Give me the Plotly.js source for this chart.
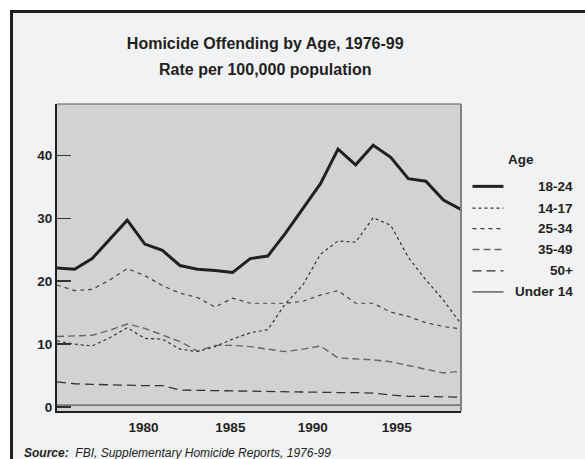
<!DOCTYPE html>
<html>
<head>
<meta charset="utf-8">
<script src="https://cdn.plot.ly/plotly-3.0.1.min.js"></script>
<style>
  html, body { margin: 0; padding: 0; background: #ffffff; }
  #frame { position: absolute; left: 10px; top: 10px; width: 575px; height: 449px;
           border-left: 3px solid #231f20; border-top: 3px solid #231f20; box-sizing: border-box;
           background: #f1f2f4; overflow: hidden; }
  #chart { width: 572px; height: 446px; }
</style>
</head>
<body>
<div id="frame"><div id="chart"></div></div>
<script>
// ---- data (rate per 100,000 population) ----
const years = [1976,1977,1978,1979,1980,1981,1982,1983,1984,1985,1986,1987,
               1988,1989,1990,1991,1992,1993,1994,1995,1996,1997,1998,1999];
const age18_24 = [22.1,21.9,23.6,26.6,29.7,25.9,24.9,22.5,21.9,21.7,21.4,23.6,
                  24.0,27.6,31.6,35.5,41.0,38.5,41.6,39.7,36.3,35.9,32.9,31.4];
const age14_17 = [10.5,10.0,9.7,11.0,12.6,10.9,10.8,9.2,8.8,9.6,10.8,11.8,
                  12.3,16.4,19.4,24.3,26.4,26.2,30.1,28.9,23.8,20.2,17.0,13.2];
const age25_34 = [19.4,18.5,18.7,20.2,22.0,20.9,19.3,18.1,17.4,15.9,17.3,16.5,
                  16.5,16.5,16.8,17.8,18.5,16.5,16.5,15.1,14.4,13.4,12.8,12.4];
const age35_49 = [11.2,11.3,11.4,12.2,13.2,12.5,11.4,10.4,8.9,9.8,9.8,9.6,
                  9.2,8.8,9.2,9.7,7.8,7.7,7.5,7.2,6.6,6.0,5.4,5.7];
const age50plus = [4.0,3.7,3.6,3.5,3.5,3.4,3.4,2.7,2.65,2.6,2.5,2.5,
                   2.4,2.4,2.4,2.35,2.3,2.3,2.2,1.9,1.7,1.7,1.6,1.55];
const under14 = [0.3,0.3,0.3,0.3,0.3,0.3,0.3,0.3,0.3,0.3,0.3,0.3,
                 0.3,0.3,0.3,0.3,0.3,0.3,0.3,0.3,0.3,0.3,0.3,0.3];
const seriesNames = ["18-24","14-17","25-34","35-49","50+","Under 14"];
const xTickYears = [1980,1985,1990,1995];
const xTickLabels = ["1980","1985","1990","1995"];
const yTickVals = [0,10,20,30,40];
const yTickLabels = ["0","10","20","30","40"];

// ---- styles ----
const FONT = '"Liberation Sans", Arial, Helvetica, sans-serif';
const INK = '#231f20';
const styles = [
  {color: INK,      width: 3,   dash: 'solid'},
  {color: '#333333', width: 1.2, dash: 'dot'},
  {color: '#444444', width: 1.2, dash: '4px,4px'},
  {color: '#666666', width: 1.4, dash: '7px,4px'},
  {color: '#333333', width: 1.3, dash: '9px,5px'},
  {color: '#7a7a7a', width: 1.8, dash: 'solid'}
];
const allSeries = [age18_24, age14_17, age25_34, age35_49, age50plus, under14];

const traces = allSeries.map((ys, i) => ({
  type: 'scatter', mode: 'lines', x: years, y: ys, name: seriesNames[i],
  line: {color: styles[i].color, width: styles[i].width, dash: styles[i].dash},
  showlegend: false, hoverinfo: 'x+y+name'
}));

// ---- geometry (figure pixels; figure origin at page 13,13) ----
const W = 572, H = 446;
const M = {l: 43.5, r: 124, t: 90.5, b: 48};
const PW = W - M.l - M.r, PH = H - M.t - M.b;
const OX = 13, OY = 13;
const px = p => (p - OX - M.l) / PW;          // page x -> paper x
const py = p => 1 - (p - OY - M.t) / PH;      // page y -> paper y

// x tick label offsets to match the reference's label placement
const xTickOffsets = [0.92, 0.87, 0.56, 0.34];
const xTickVals = xTickYears.map((y, i) => y + xTickOffsets[i]);

const annotations = [];
const shapes = [];

// subtitle (second title line)
annotations.push({xref: 'paper', yref: 'paper', x: px(265), y: py(69), xanchor: 'center', yanchor: 'middle',
  text: 'Rate per 100,000 population', showarrow: false,
  font: {family: FONT, size: 16, color: INK, weight: 700}});

// legend
annotations.push({xref: 'paper', yref: 'paper', x: px(521), y: py(159.5), xanchor: 'center', yanchor: 'middle',
  text: 'Age', showarrow: false, font: {family: FONT, size: 13.5, color: INK, weight: 700}});
const legendY = [186, 207.7, 228.3, 249.3, 270.7, 291.7];
seriesNames.forEach((nm, i) => {
  annotations.push({xref: 'paper', yref: 'paper', x: px(575.5), y: py(legendY[i]), xanchor: 'right', yanchor: 'middle',
    text: nm, showarrow: false, font: {family: FONT, size: 13.5, color: INK, weight: 700}});
  shapes.push({type: 'line', xref: 'paper', yref: 'paper', x0: px(472.5), x1: px(503.5),
    y0: py(legendY[i]), y1: py(legendY[i]),
    line: {color: styles[i].color, width: styles[i].width, dash: styles[i].dash}});
});

// source note
annotations.push({xref: 'paper', yref: 'paper', x: px(21.5), y: py(453.5), xanchor: 'left', yanchor: 'middle',
  text: '<b><i>Source:</i></b><i>\u00a0\u00a0FBI, Supplementary Homicide Reports, 1976-99</i>', showarrow: false,
  font: {family: FONT, size: 12, color: INK}});

// plot frame: top and right edges
shapes.push({type: 'line', xref: 'paper', yref: 'paper', x0: 0, x1: 1, y0: 1, y1: 1, line: {color: '#58595b', width: 1.2}});
shapes.push({type: 'line', xref: 'paper', yref: 'paper', x0: 1, x1: 1, y0: 0, y1: 1, line: {color: '#808285', width: 2}});

const yPerPx = 1 / 6.3;
const layout = {
  width: W, height: H,
  margin: M,
  paper_bgcolor: '#f1f2f4',
  plot_bgcolor: '#d1d2d4',
  font: {family: FONT, color: INK},
  title: {text: 'Homicide Offending by Age, 1976-99', xref: 'paper', x: px(265), xanchor: 'center',
          yref: 'container', y: 1 - (43 - OY) / H, yanchor: 'middle',
          font: {family: FONT, size: 16, color: INK, weight: 700}},
  xaxis: {range: [1976, 1999], tickvals: xTickVals, ticktext: xTickLabels, ticks: '',
          ticklabelstandoff: 3,
          showgrid: false, zeroline: false, showline: true, linecolor: INK, linewidth: 2,
          tickfont: {family: FONT, size: 13.5, color: INK, weight: 700}, fixedrange: true},
  yaxis: {range: [-(411 - 407) * yPerPx, (407 - 103.5) * yPerPx], tickvals: yTickVals, ticktext: yTickLabels,
          ticks: 'inside', ticklen: 14, tickwidth: 1.5, tickcolor: '#333333',
          showgrid: false, zeroline: false, showline: true, linecolor: INK, linewidth: 2,
          tickfont: {family: FONT, size: 13.5, color: INK, weight: 700}, fixedrange: true},
  showlegend: false,
  annotations: annotations,
  shapes: shapes
};

Plotly.newPlot('chart', traces, layout, {displayModeBar: false, staticPlot: true});
</script>
</body>
</html>
